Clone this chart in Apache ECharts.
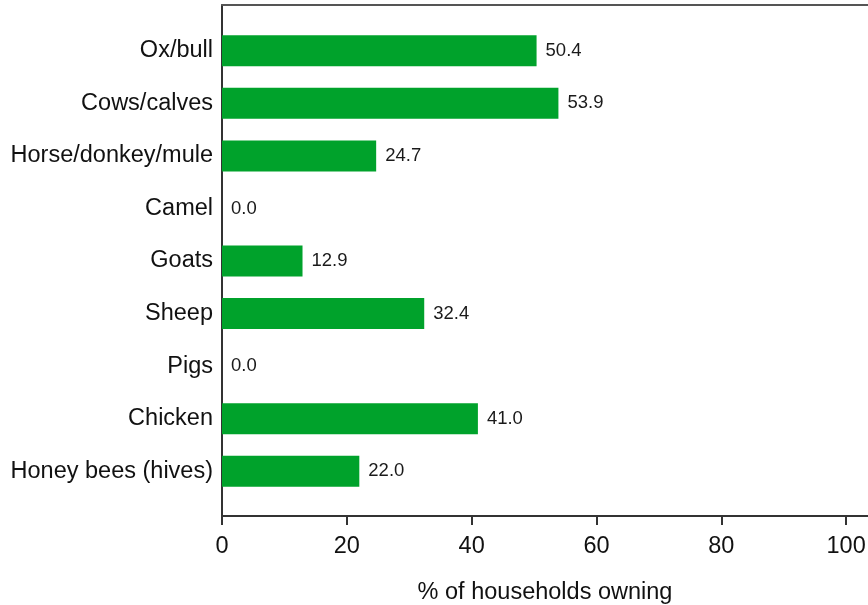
<!DOCTYPE html>
<html>
<head>
<meta charset="utf-8">
<script src="https://cdn.jsdelivr.net/npm/echarts@6/dist/echarts.min.js"></script>
<style>
  html, body { margin: 0; padding: 0; background: #fff; }
  #chart { width: 868px; height: 605px; }
</style>
</head>
<body>
<div id="chart"></div>
<script>

// data
var categories = ['Ox/bull', 'Cows/calves', 'Horse/donkey/mule', 'Camel', 'Goats', 'Sheep', 'Pigs', 'Chicken', 'Honey bees (hives)'];
var ownShare = [50.4, 53.9, 24.7, 0.0, 12.9, 32.4, 0.0, 41.0, 22.0];
var xTicks = [0, 20, 40, 60, 80, 100];
var xMax = 103.5;

var fontFam = '"Liberation Sans", Arial, sans-serif';
var green = '#00a22b';
var lineCol = '#333';

var myChart = echarts.init(document.getElementById('chart'));

var option = {
	backgroundColor : '#fff',
	animation : false,
	textStyle : { fontFamily : fontFam },
	grid : [
		//外框
		{ left : 222, right : 0, top : 5, bottom : 89, outerBoundsMode : 'none' },
		//柱子区域
		{ left : 222, right : 0, top : 24.5, bottom : 107.5, outerBoundsMode : 'none' }
	],
	xAxis : [ {
		gridIndex : 0,
		type : 'value',
		position : 'bottom',
		min : 0,
		max : xMax,
		axisLine : { show : true, onZero : false, lineStyle : { color : lineCol, width : 2 } },
		axisTick : { show : true, length : 9, customValues : xTicks, lineStyle : { color : lineCol, width : 2 } },
		axisLabel : { customValues : xTicks, fontSize : 23.5, color : '#111', margin : 19, fontFamily : fontFam },
		splitLine : { show : false },
		name : '% of households owning',
		nameLocation : 'middle',
		nameGap : 65,
		nameTextStyle : { fontSize : 23.5, color : '#111', fontFamily : fontFam }
	}, {
		gridIndex : 0,
		type : 'value',
		position : 'top',
		min : 0,
		max : xMax,
		axisLine : { show : true, onZero : false, lineStyle : { color : '#555', width : 2 } },
		axisTick : { show : false },
		axisLabel : { show : false },
		splitLine : { show : false }
	}, {
		gridIndex : 1,
		type : 'value',
		min : 0,
		max : xMax,
		show : false
	} ],
	yAxis : [ {
		gridIndex : 0,
		type : 'value',
		min : 0,
		max : 1,
		axisLine : { show : true, onZero : false, lineStyle : { color : lineCol, width : 2 } },
		axisTick : { show : false },
		axisLabel : { show : false },
		splitLine : { show : false }
	}, {
		gridIndex : 1,
		type : 'category',
		inverse : true,
		data : categories,
		axisLine : { show : false },
		axisTick : { show : false },
		axisLabel : { fontSize : 23.5, color : '#111', margin : 9, fontFamily : fontFam }
	} ],
	series : [ {
		type : 'bar',
		xAxisIndex : 2,
		yAxisIndex : 1,
		data : ownShare,
		barWidth : 31,
		itemStyle : { color : green },
		label : {
			show : true,
			position : 'right',
			distance : 9,
			fontSize : 18.5,
			color : '#1a1a1a',
			fontFamily : fontFam,
			formatter : function(p) {
				return p.value.toFixed(1);
			}
		}
	} ]
};

myChart.setOption(option);
</script>
</body>
</html>
